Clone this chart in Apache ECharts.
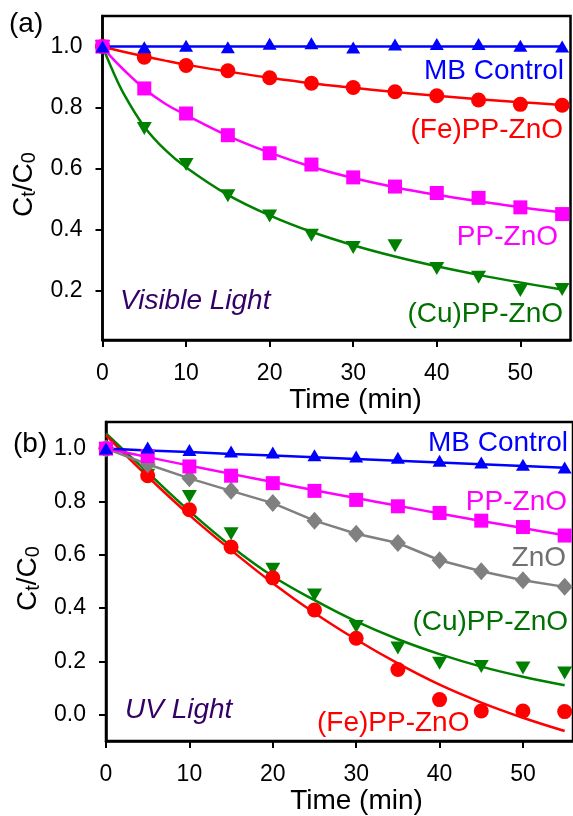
<!DOCTYPE html>
<html><head><meta charset="utf-8">
<script src="https://cdn.jsdelivr.net/npm/echarts@6/dist/echarts.min.js"></script>
<style>html,body{margin:0;padding:0;background:#fff}#c{width:573px;height:816px}</style>
</head><body><div id="c"></div>
<script>
const FONT = '"Liberation Sans", Arial, sans-serif';

// ---- shared axis ticks ----
const xTicks = [0, 10, 20, 30, 40, 50];
const yTicksTop = [0.2, 0.4, 0.6, 0.8, 1.0];
const yTicksBottom = [0.0, 0.2, 0.4, 0.6, 0.8, 1.0];

// ---- sampling times (min) ----
const time = [0, 5, 10, 15, 20, 25, 30, 35, 40, 45, 50, 55];
const fitTimeTop = [0, 1, 2.5, 5, 7.5, 10, 15, 20, 25, 30, 35, 40, 45, 50, 55];

// ---- (a) Visible light: measured points ----
const visMB = [1.0, 0.998, 1.003, 0.998, 1.009, 1.011, 0.997, 1.007, 1.008, 1.008, 1.003, 1.0];
const visFe = [1.0, 0.965, 0.938, 0.921, 0.898, 0.88, 0.866, 0.852, 0.839, 0.825, 0.811, 0.808];
const visPP = [1.0, 0.863, 0.781, 0.71, 0.651, 0.614, 0.572, 0.542, 0.521, 0.505, 0.474, 0.452];
const visCu = [1.0, 0.732, 0.614, 0.512, 0.446, 0.383, 0.343, 0.348, 0.274, 0.245, 0.202, 0.205];
// ---- (a) fitted curves (at fitTimeTop) ----
const visMBFit = [1.0, 1.0, 1.0, 1.0, 1.0, 1.0, 1.0, 1.0, 1.0, 1.0, 1.0, 1.0, 1.0, 1.0, 1.0];
const visFeFit = [1.0, 0.993, 0.983, 0.968, 0.954, 0.941, 0.918, 0.898, 0.88, 0.865, 0.851, 0.839, 0.828, 0.818, 0.809];
const visPPFit = [1.0, 0.967, 0.925, 0.862, 0.813, 0.776, 0.708, 0.653, 0.607, 0.57, 0.54, 0.515, 0.494, 0.474, 0.457];
const visCuFit = [1.0, 0.935, 0.848, 0.738, 0.662, 0.605, 0.515, 0.448, 0.394, 0.35, 0.313, 0.281, 0.253, 0.228, 0.205];

// ---- (b) UV light: measured points ----
const uvMB = [1.0, 1.004, 0.995, 0.989, 0.985, 0.975, 0.97, 0.966, 0.954, 0.948, 0.939, 0.929];
const uvPP = [1.0, 0.972, 0.933, 0.898, 0.87, 0.841, 0.807, 0.783, 0.758, 0.729, 0.705, 0.673];
const uvZnO = [1.0, 0.941, 0.888, 0.841, 0.795, 0.729, 0.68, 0.645, 0.58, 0.539, 0.505, 0.48];
const uvCu = [1.0, 0.9, 0.82, 0.68, 0.546, 0.449, 0.331, 0.25, 0.193, 0.181, 0.175, 0.156];
const uvFe = [1.0, 0.898, 0.77, 0.63, 0.514, 0.393, 0.287, 0.169, 0.056, 0.013, 0.013, 0.011];
// ---- (b) fitted curves (at time) ----
const uvMBFit = [1.0, 0.993, 0.987, 0.98, 0.974, 0.967, 0.961, 0.954, 0.948, 0.941, 0.935, 0.928];
const uvPPFit = [1.0, 0.968, 0.936, 0.905, 0.874, 0.843, 0.814, 0.785, 0.756, 0.728, 0.701, 0.674];
const uvCuFit = [1.057, 0.91, 0.765, 0.633, 0.52, 0.43, 0.35, 0.283, 0.227, 0.18, 0.142, 0.11];
const uvFeFit = [1.05, 0.895, 0.75, 0.618, 0.494, 0.382, 0.282, 0.192, 0.112, 0.045, -0.012, -0.062];

const C = { mb: '#0000ff', fe: '#ff0000', pp: '#ff00ff', cu: '#008000', zno: '#808080' };

function xy(xs, ys) { return xs.map((x, i) => [x, ys[i]]); }

function xAxisCfg(gridIndex, gap, pad) {
  return {
    type: 'value', gridIndex, min: 0, max: 56,
    axisLine: { show: true, onZero: false, lineStyle: { color: '#000', width: 2.5 } },
    axisTick: { show: true, length: 7, lineStyle: { color: '#000', width: 2 }, customValues: xTicks },
    axisLabel: { customValues: xTicks, margin: 22, fontSize: 23, color: '#000', fontFamily: FONT },
    splitLine: { show: false },
    name: 'Time (min)', nameLocation: 'middle', nameGap: gap,
    nameTextStyle: { fontSize: 28, color: '#000', fontFamily: FONT, padding: [0, 0, 0, pad] }
  };
}
function yAxisCfg(gridIndex, min, ticks, gap, pad) {
  return {
    type: 'value', gridIndex, min, max: 1.1,
    axisLine: { show: true, onZero: false, lineStyle: { color: '#000', width: 2.5 } },
    axisTick: { show: true, length: 7, lineStyle: { color: '#000', width: 2 }, customValues: ticks },
    axisLabel: { customValues: ticks, margin: 20, fontSize: 23, color: '#000', fontFamily: FONT,
      formatter: v => Number(v).toFixed(1) },
    splitLine: { show: false },
    name: '{m|C}{s|t}{m|/C}{s|0}', nameLocation: 'middle', nameRotate: 90, nameGap: gap,
    nameTextStyle: {
      padding: pad,
      rich: {
        m: { fontSize: 28, fontFamily: FONT, color: '#000', lineHeight: 30 },
        s: { fontSize: 20, fontFamily: FONT, color: '#000', lineHeight: 20, verticalAlign: 'bottom' }
      }
    }
  };
}
function pts(name, gi, data, color, symbol, size, rotate) {
  return { name, type: 'scatter', xAxisIndex: gi, yAxisIndex: gi, data, symbol, symbolSize: size,
    symbolRotate: rotate || 0, itemStyle: { color, opacity: 1 }, z: 5 };
}
function fit(name, gi, data, color, smooth) {
  return { name, type: 'line', xAxisIndex: gi, yAxisIndex: gi, data, showSymbol: false, symbol: 'none',
    smooth: smooth, lineStyle: { color, width: 2.5 }, z: 3 };
}
function txt(text, x, y, color, align, italic) {
  return { type: 'text', x, y, z: 100, style: { text, fill: color, fontSize: 28, fontFamily: FONT,
    fontStyle: italic ? 'italic' : 'normal', align, verticalAlign: 'middle' } };
}

const option = {
  animation: false,
  backgroundColor: '#fff',
  grid: [
    { left: 102.5, top: 16, width: 468, height: 324, show: true, borderColor: '#000', borderWidth: 2.5, backgroundColor: 'transparent' },
    { left: 106, top: 422, width: 469, height: 322, show: true, borderColor: '#000', borderWidth: 2.5, backgroundColor: 'transparent' }
  ],
  xAxis: [xAxisCfg(0, 43, 38), xAxisCfg(1, 45, 34)],
  yAxis: [yAxisCfg(0, 0.04, yTicksTop, 58, [0, 13, 0, 0]), yAxisCfg(1, -0.1, yTicksBottom, 58, [0, 0, 0, 6])],
  series: [
    // (a)
    fit('(Cu)PP-ZnO fit', 0, xy(fitTimeTop, visCuFit), C.cu, 0.4),
    fit('(Fe)PP-ZnO fit', 0, xy(fitTimeTop, visFeFit), C.fe, 0.4),
    fit('PP-ZnO fit', 0, xy(fitTimeTop, visPPFit), C.pp, 0.4),
    fit('MB Control fit', 0, xy(fitTimeTop, visMBFit), C.mb, 0),
    pts('(Cu)PP-ZnO', 0, xy(time, visCu), C.cu, 'triangle', [15, 13], 180),
    pts('(Fe)PP-ZnO', 0, xy(time, visFe), C.fe, 'circle', 15),
    pts('PP-ZnO', 0, xy(time, visPP), C.pp, 'rect', 14),
    pts('MB Control', 0, xy(time, visMB), C.mb, 'triangle', [14, 12]),
    // (b)
    fit('(Cu)PP-ZnO fit', 1, xy(time, uvCuFit), C.cu, 0.4),
    fit('(Fe)PP-ZnO fit', 1, xy(time, uvFeFit), C.fe, 0.4),
    fit('ZnO line', 1, xy(time, uvZnO), C.zno, 0),
    fit('PP-ZnO fit', 1, xy(time, uvPPFit), C.pp, 0.4),
    fit('MB Control fit', 1, xy(time, uvMBFit), C.mb, 0),
    pts('(Cu)PP-ZnO', 1, xy(time, uvCu), C.cu, 'triangle', [15, 13], 180),
    pts('(Fe)PP-ZnO', 1, xy(time, uvFe), C.fe, 'circle', 15),
    pts('ZnO', 1, xy(time, uvZnO), C.zno, 'diamond', [16, 18]),
    pts('PP-ZnO', 1, xy(time, uvPP), C.pp, 'rect', 14),
    pts('MB Control', 1, xy(time, uvMB), C.mb, 'triangle', [14, 12])
  ],
  graphic: [
    txt('(a)', 9, 24, '#000', 'left'),
    txt('MB Control', 564, 71, '#0000ff', 'right'),
    txt('(Fe)PP-ZnO', 563, 130, '#ff0000', 'right'),
    txt('PP-ZnO', 558, 237, '#ff00ff', 'right'),
    txt('(Cu)PP-ZnO', 563, 314, '#007000', 'right'),
    txt('Visible Light', 120, 301, '#330066', 'left', true),
    txt('(b)', 13, 444, '#000', 'left'),
    txt('MB Control', 568, 443, '#0000ff', 'right'),
    txt('PP-ZnO', 567, 502, '#ff00ff', 'right'),
    txt('ZnO', 566, 558, '#707070', 'right'),
    txt('(Cu)PP-ZnO', 568, 622, '#007000', 'right'),
    txt('(Fe)PP-ZnO', 317, 723, '#ff0000', 'left'),
    txt('UV Light', 125, 710, '#330066', 'left', true)
  ]
};
const chart = echarts.init(document.getElementById('c'), null, { renderer: 'canvas' });
chart.setOption(option);
</script>
</body></html>
